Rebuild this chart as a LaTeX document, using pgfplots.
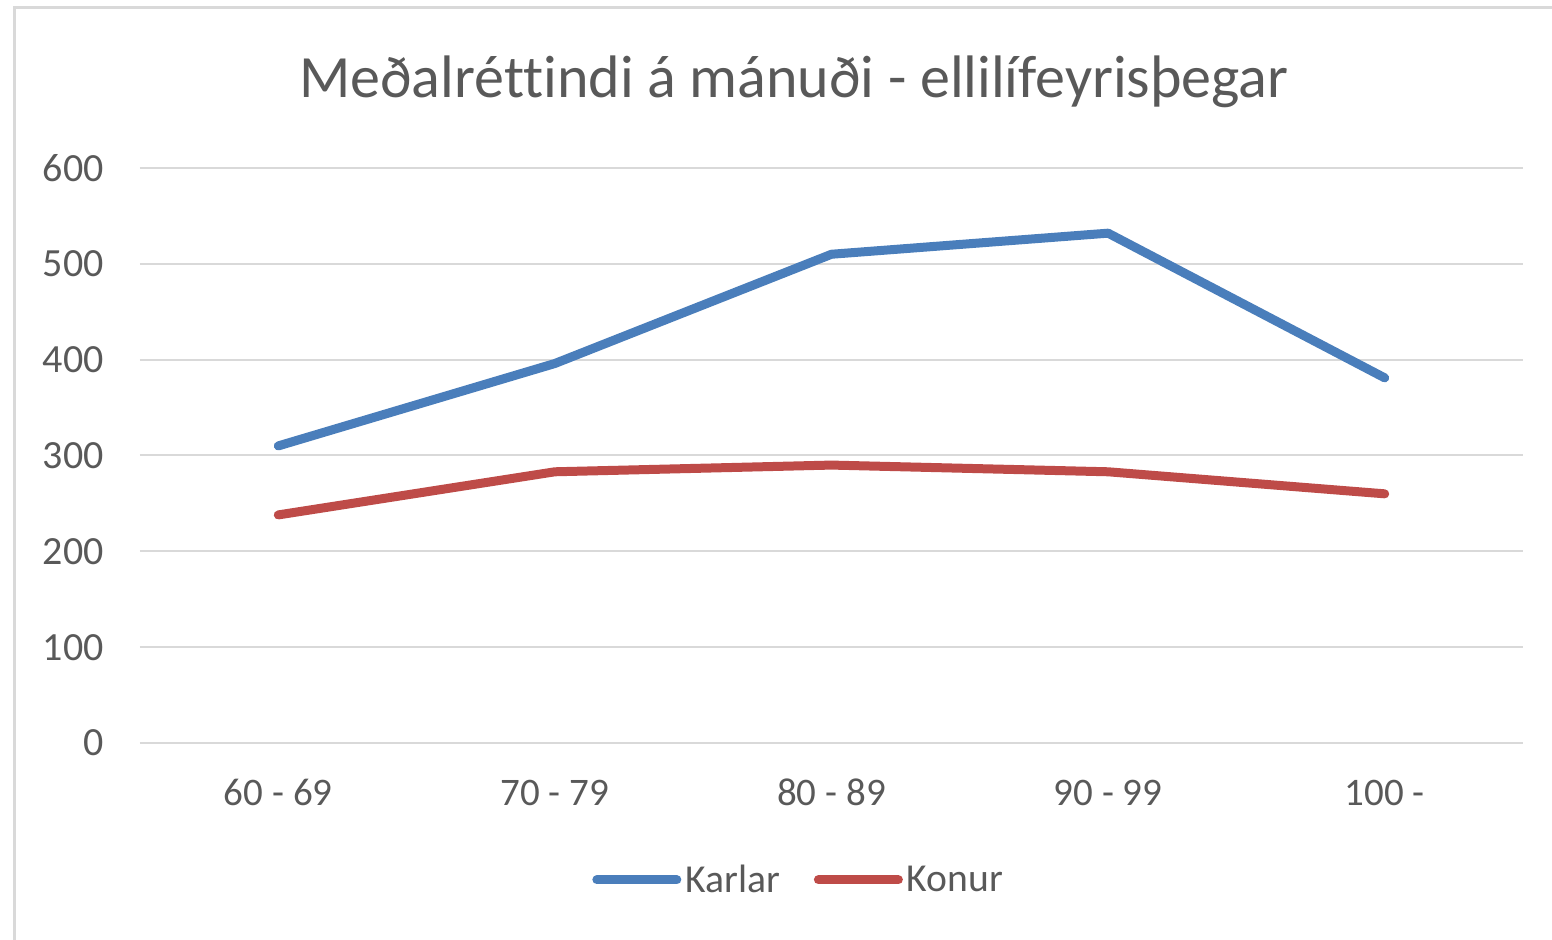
\documentclass[border=0pt]{standalone}
\usepackage{pgfplots}
\pgfplotsset{compat=1.18}
\usepackage{fontspec}
\setmainfont{Carlito}[Ligatures=NoCommon]
\definecolor{txt}{HTML}{595959}
\definecolor{gridc}{HTML}{D9D9D9}
\definecolor{cblue}{HTML}{4A7EBB}
\definecolor{cred}{HTML}{BE4B48}
\begin{document}
\begin{tikzpicture}[x=0.5pt,y=0.5pt]
\useasboundingbox (-140,-197) rectangle (1412,743);
\draw[gridc, line width=1.5pt] (-125,-197) -- (-125,735) -- (1412,735);
\node[anchor=base, text=txt, font=\fontsize{30}{36}\selectfont, inner sep=0pt] at (654,645) {Meðalréttindi á mánuði - ellilífeyrisþegar};
\begin{axis}[
  scale only axis, width=691.5pt, height=287.5pt,
  xmin=-0.5, xmax=4.5, ymin=0, ymax=600,
  xtick={0,1,2,3,4},
  xticklabels={60 - 69, 70 - 79, 80 - 89, 90 - 99, 100 -},
  ytick={0,100,...,600},
  axis line style={draw=none},
  major tick length=0pt,
  ymajorgrids, xmajorgrids=false, grid style={gridc, line width=1pt},
  tick label style={text=txt},
  yticklabel style={anchor=east, inner sep=0pt, xshift=-18pt, font=\fontsize{20}{24}\selectfont},
  xticklabel style={anchor=base, inner sep=0pt, yshift=-31.5pt, font=\fontsize{19.5}{23}\selectfont},
  /pgf/number format/assume math mode=true,
  legend style={at={(0.477,-0.238)}, anchor=center, draw=none, fill=none,
    legend columns=2, font=\fontsize{19.8}{23}\selectfont, text=txt,
    /tikz/every even column/.append style={column sep=15pt},
    nodes={inner sep=2pt}},
  legend image code/.code={\draw[#1, line cap=round] (0pt,0pt) -- (40pt,0pt);},
  every axis plot/.append style={line width=4.5pt, line cap=round, line join=round},
]
\addplot[cblue] coordinates {(0,310) (1,396) (2,510) (3,532) (4,381)};
\addlegendentry{Karlar}
\addplot[cred] coordinates {(0,238) (1,283) (2,290) (3,283) (4,260)};
\addlegendentry{Konur}
\end{axis}
\end{tikzpicture}
\end{document}
